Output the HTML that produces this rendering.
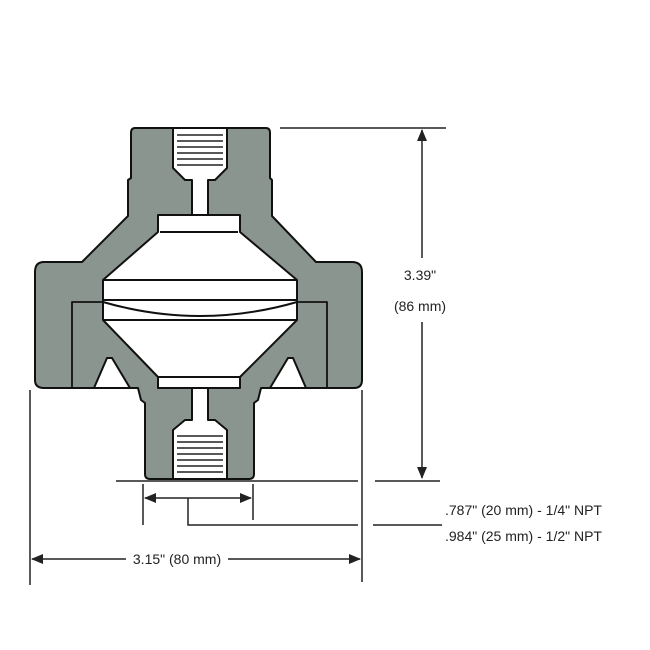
<!DOCTYPE html><html><head><style>body{margin:0;background:#fff}svg{display:block}text{font-family:"Liberation Sans",sans-serif;font-size:14px;fill:#222}</style></head><body>
<svg width="650" height="650" viewBox="0 0 650 650">
<defs><marker id="a" markerWidth="12" markerHeight="10" refX="11" refY="5" orient="auto-start-reverse" markerUnits="userSpaceOnUse"><path d="M0,0L12,5L0,10z" fill="#222"/></marker></defs>
<g stroke="#111" stroke-width="2" stroke-linejoin="round">
<path fill="#8a958f" d="M135,128H266Q270,128 270,133V178L272,180V216L316,262H352Q362,262 362,272V380Q362,388 354,388H261L258,400L254,403V474Q254,479 249,479H150Q145,479 145,474V403L141,400L138,388H44Q35,388 35,380V272Q35,262 44,262H82L128,216V180L131,178V133Q131,128 135,128Z"/>
<path fill="#fff" d="M158,215H240V232L297,280V320L240,377V388H158V377L103,320V280L158,232Z"/>
<path fill="none" d="M160,232H238M103,280H297M103,300H297M103,320H297M158,377H240M103,302Q200,330 297,302"/>
<path fill="none" d="M72,388V302H103M297,302H327V388" stroke-width="1.8"/>
<path fill="#fff" d="M107,358L94,388H130L112,358Z M293,358L306,388H270L288,358Z"/>
<path fill="#fff" d="M173,128H227V168L215,180H208V215H192V180H185L173,168Z"/>
<path fill="#fff" d="M173,479H227V430L215,420H208V388H192V420H185L173,430Z"/>
</g>
<g stroke="#222" stroke-width="1.6">
<path d="M177,135H223M177,141H223M177,147H223M177,153H223M177,159H223M177,165H223M177,436H223M177,442H223M177,448H223M177,454H223M177,460H223M177,466H223M177,472H223"/>
</g>
<g stroke="#222" stroke-width="1.5" fill="none">
<path d="M280,128H446M116,481H358M375,481H440M143,484V525M253,484V520M188,498V525H358M373,525H442M30,390V585M362,390V582"/>
<path d="M422,130V258" marker-start="url(#a)"/>
<path d="M422,322V478" marker-end="url(#a)"/>
<path d="M145,498H251" marker-start="url(#a)" marker-end="url(#a)"/>
<path d="M32,559H126" marker-start="url(#a)"/>
<path d="M228,559H360" marker-end="url(#a)"/>
</g>
<text x="420" y="280" text-anchor="middle">3.39"</text>
<text x="420" y="311" text-anchor="middle">(86 mm)</text>
<text x="445" y="515">.787" (20 mm) - 1/4" NPT</text>
<text x="445" y="541">.984" (25 mm) - 1/2" NPT</text>
<text x="177" y="564" text-anchor="middle">3.15" (80 mm)</text>
</svg></body></html>
